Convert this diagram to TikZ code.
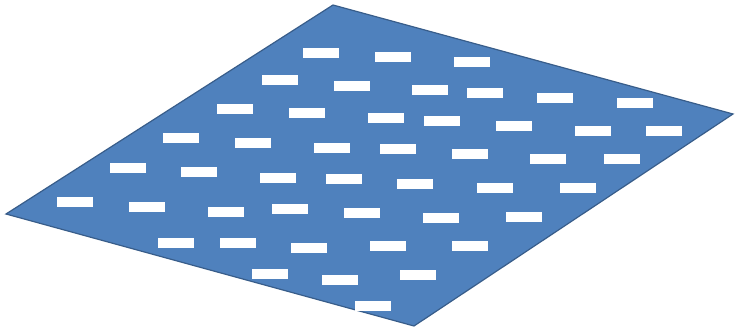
\documentclass[tikz,border=0pt]{standalone}
\begin{document}
\begin{tikzpicture}[x=1pt,y=-1pt,
  plate/.style={fill={rgb,255:red,79;green,129;blue,189}, draw={rgb,255:red,56;green,93;blue,138}, line width=1.2pt, line join=miter},
  bar/.style={fill=white, draw=none, minimum width=36pt, minimum height=9.5pt, inner sep=0pt, outer sep=0pt}]
\useasboundingbox (0,0) rectangle (735,329);
\coordinate (top) at (333,5);
\coordinate (right) at (733,114);
\coordinate (bottom) at (414,326);
\coordinate (left) at (6,214);
\draw[plate] (top) -- (right) -- (bottom) -- (left) -- cycle;
\foreach \x/\y [count=\i] in {321/53,280/80,352/86,235/109,307/113,181/138,253/143,332/148,128/168,
  393/57,472/62,430/90,485/93,555/98,635/103,386/118,442/121,514/126,593/131,664/131,
  398/149,470/154,548/159,622/159,199/172,278/178,344/179,75/202,147/207,226/212,290/209,362/213,
  176/243,238/243,309/248,270/274,340/280,373/306,415/184,495/188,578/188,441/218,524/217,
  388/246,470/246,418/275}
  \node[bar] (b\i) at (\x,\y) {};
\end{tikzpicture}
\end{document}
